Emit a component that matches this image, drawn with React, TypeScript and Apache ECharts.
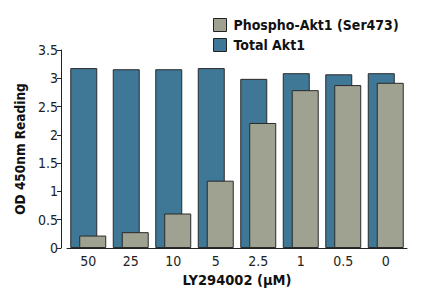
import React, { useEffect, useRef } from "react";
import * as echarts from "echarts";

const categories = ["50", "25", "10", "5", "2.5", "1", "0.5", "0"];
const totalAkt1 = [3.18, 3.16, 3.16, 3.18, 2.99, 3.09, 3.07, 3.09];
const phosphoAkt1 = [0.22, 0.28, 0.61, 1.19, 2.21, 2.79, 2.88, 2.92];
const yTicks = { min: 0, max: 3.5, interval: 0.5 };

const FONT = "'DejaVu Sans Condensed', 'Liberation Sans Narrow', sans-serif";

export default function App() {
  const ref = useRef<HTMLDivElement>(null);
  useEffect(() => {
    if (!ref.current) return;
    const chart = echarts.init(ref.current, undefined, { renderer: "svg" });
    chart.setOption({
      animation: false,
      textStyle: { fontFamily: FONT },
      legend: {
        orient: "vertical",
        left: 208,
        top: 13,
        icon: "rect",
        itemWidth: 13,
        itemHeight: 13,
        itemGap: 6,
        data: ["Phospho-Akt1 (Ser473)", "Total Akt1"],
        textStyle: { fontFamily: FONT, fontSize: 14, fontWeight: "bold", color: "#111", padding: [0, 0, 0, 2] },
        itemStyle: { borderColor: "#222", borderWidth: 1 },
      },
      grid: { left: 67, right: 18, top: 50, bottom: 48, containLabel: false },
      xAxis: {
        type: "category",
        data: categories,
        axisLine: { lineStyle: { color: "#222", width: 1 } },
        axisTick: { show: false },
        axisLabel: { fontFamily: FONT, fontSize: 14, color: "#222", margin: 6 },
        name: "LY294002 (µM)",
        nameLocation: "middle",
        nameGap: 22,
        nameTextStyle: { fontFamily: FONT, fontSize: 14.5, fontWeight: "bold", color: "#111" },
      },
      yAxis: {
        type: "value",
        min: yTicks.min,
        max: yTicks.max,
        interval: yTicks.interval,
        offset: 6,
        splitLine: { show: false },
        axisLine: { show: true, lineStyle: { color: "#222", width: 1 } },
        axisTick: { show: true, length: 4, lineStyle: { color: "#222" } },
        axisLabel: { fontFamily: FONT, fontSize: 14, color: "#222", margin: 3 },
        name: "OD 450nm Reading",
        nameLocation: "middle",
        nameGap: 28,
        nameTextStyle: { fontFamily: FONT, fontSize: 13.5, fontWeight: "bold", color: "#111" },
      },
      series: [
        {
          name: "Total Akt1",
          type: "bar",
          data: totalAkt1,
          barWidth: 27,
          barGap: "-66.7%",
          itemStyle: { color: "#3f7797", borderColor: "#2a2a2a", borderWidth: 1 },
        },
        {
          name: "Phospho-Akt1 (Ser473)",
          type: "bar",
          data: phosphoAkt1,
          barWidth: 27,
          barGap: "-66.7%",
          itemStyle: { color: "#9fa191", borderColor: "#2a2a2a", borderWidth: 1 },
        },
      ],
    });
    return () => chart.dispose();
  }, []);
  return <div ref={ref} style={{ width: 425, height: 296, position: "absolute", left: 0, top: 0 }} />;
}
